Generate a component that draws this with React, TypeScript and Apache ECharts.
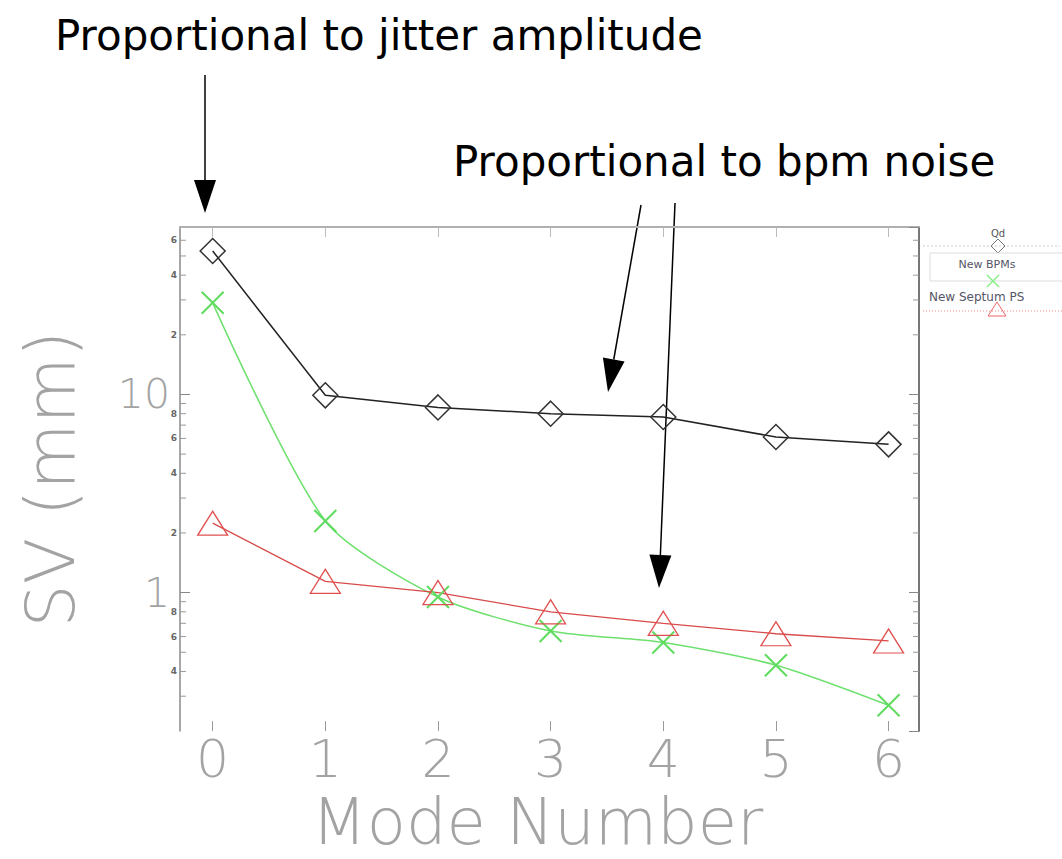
import React, { useEffect, useRef } from "react";
import * as echarts from "echarts";

const MODES = [0, 1, 2, 3, 4, 5, 6];
const QD = [53, 9.9, 8.6, 8.0, 7.7, 6.1, 5.6];
const NEW_BPMS = [29, 2.3, 0.95, 0.64, 0.56, 0.43, 0.27];
const NEW_SEPTUM = [2.24, 1.14, 1.0, 0.8, 0.7, 0.62, 0.57];

const X_TICKS = [0, 1, 2, 3, 4, 5, 6];
const Y_MAJOR_LABELS = [1, 10];
const Y_MINOR_TICKS = [0.3, 0.4, 0.5, 0.6, 0.7, 0.8, 0.9, 2, 3, 4, 5, 6, 7, 8, 9, 20, 30, 40, 50, 60];
const Y_MINOR_LABELS = [0.4, 0.6, 0.8, 2, 4, 6, 8, 20, 40, 60];

const X_MIN = -0.29;
const X_MAX = 6.27;
const Y_MIN = 0.2;
const Y_MAX = 70;

const AXIS_FONT = "'DejaVu Sans', sans-serif";
const AXIS_COLOR = "#a3a3a3";

function arrow(x1: number, y1: number, x2: number, y2: number) {
  const len = Math.hypot(x2 - x1, y2 - y1);
  const dx = (x2 - x1) / len;
  const dy = (y2 - y1) / len;
  const hl = 33;
  const hw = 11;
  const bx = x2 - dx * hl;
  const by = y2 - dy * hl;
  return [
    {
      type: "line",
      shape: { x1, y1, x2: bx, y2: by },
      style: { stroke: "#000", lineWidth: 1.5 },
    },
    {
      type: "polygon",
      shape: {
        points: [
          [x2, y2],
          [bx - dy * hw, by + dx * hw],
          [bx + dy * hw, by - dx * hw],
        ],
      },
      style: { fill: "#000" },
    },
  ];
}

const X_PATH = "path://M0 0L10 10M10 0L0 10";
const LEG_FONT = "'DejaVu Sans', sans-serif";

export default function App() {
  const ref = useRef<HTMLDivElement>(null);
  useEffect(() => {
    if (!ref.current) return;
    const chart = echarts.init(ref.current, null, { renderer: "svg" });
    const pts = (arr: number[]) => MODES.map((m, i) => [m, arr[i]]);
    const option: any = {
      animation: false,
      backgroundColor: "#fff",
      grid: { left: 180, top: 227, right: 143, bottom: 116, containLabel: false },
      xAxis: [
        {
          type: "value",
          min: X_MIN,
          max: X_MAX,
          position: "bottom",
          name: "Mode Number",
          nameLocation: "middle",
          nameGap: 54,
          nameTextStyle: {
            fontFamily: AXIS_FONT,
            fontWeight: 200,
            fontSize: 64,
            color: AXIS_COLOR,
            padding: [0, 24, 0, 0],
          },
          axisLine: { show: false, onZero: false },
          axisTick: { show: true, inside: true, length: 10, customValues: X_TICKS, lineStyle: { color: "#999" } },
          axisLabel: {
            customValues: X_TICKS,
            margin: 2,
            fontFamily: AXIS_FONT,
            fontWeight: 200,
            fontSize: 52,
            color: AXIS_COLOR,
          },
          splitLine: { show: false },
        },
        {
          type: "value",
          min: X_MIN,
          max: X_MAX,
          position: "top",
          axisLine: { show: true, onZero: false, lineStyle: { color: "#b0b0b0", width: 2 } },
          axisTick: { show: true, inside: true, length: 10, customValues: X_TICKS, lineStyle: { color: "#bbb" } },
          axisLabel: { show: false },
          splitLine: { show: false },
        },
      ],
      yAxis: [
        {
          type: "log",
          logBase: 10,
          min: Y_MIN,
          max: Y_MAX,
          position: "left",
          name: "SV (mm)",
          nameLocation: "middle",
          nameRotate: 90,
          nameGap: 96,
          nameTextStyle: { fontFamily: AXIS_FONT, fontWeight: 200, fontSize: 68, color: AXIS_COLOR },
          axisLine: { show: true, onZero: false, lineStyle: { color: "#8a8a8a", width: 1.5 } },
          axisTick: { show: true, inside: true, length: 10, lineStyle: { color: "#888" } },
          axisLabel: {
            margin: 10,
            fontFamily: AXIS_FONT,
            fontWeight: 200,
            fontSize: 41,
            color: AXIS_COLOR,
            showMinLabel: false,
            showMaxLabel: false,
            formatter: (v: number) => {
              const hit = Y_MAJOR_LABELS.find((m) => Math.abs(v - m) < 1e-6);
              return hit !== undefined ? String(hit) : "";
            },
          },
          splitLine: { show: false },
        },
        {
          type: "log",
          logBase: 10,
          min: Y_MIN,
          max: Y_MAX,
          position: "right",
          axisLine: { show: true, onZero: false, lineStyle: { color: "#777", width: 2 } },
          axisTick: { show: true, inside: true, length: 10, lineStyle: { color: "#888" } },
          axisLabel: { show: false },
          splitLine: { show: false },
        },
      ],
      series: [
        {
          type: "custom",
          silent: true,
          clip: false,
          xAxisIndex: 0,
          yAxisIndex: 0,
          data: Y_MINOR_TICKS.map((v) => [0, v]),
          renderItem: (params: any, api: any) => {
            const v = api.value(1);
            const l = api.coord([X_MIN, v]);
            const r = api.coord([X_MAX, v]);
            return {
              type: "group",
              children: [
                { type: "line", shape: { x1: l[0], y1: l[1], x2: l[0] + 6, y2: l[1] }, style: { stroke: "#999", lineWidth: 1 } },
                { type: "line", shape: { x1: r[0] - 6, y1: r[1], x2: r[0], y2: r[1] }, style: { stroke: "#999", lineWidth: 1 } },
              ],
            };
          },
          z: 1,
        },
        {
          type: "custom",
          silent: true,
          clip: false,
          xAxisIndex: 0,
          yAxisIndex: 0,
          data: Y_MINOR_LABELS.map((v) => [0, v]),
          renderItem: (params: any, api: any) => {
            const v = api.value(1);
            const l = api.coord([X_MIN, v]);
            const digit = String(Math.round(v / Math.pow(10, Math.floor(Math.log10(v) + 1e-9))));
            return {
              type: "text",
              x: l[0] - 3,
              y: l[1],
              style: {
                text: digit,
                fill: "#666",
                fontSize: 9,
                fontWeight: "bold",
                fontFamily: "'DejaVu Sans', sans-serif",
                align: "right",
                verticalAlign: "middle",
              },
            };
          },
          z: 1,
        },
        {
          name: "Qd",
          type: "line",
          data: pts(QD),
          symbol: "diamond",
          symbolSize: 25,
          lineStyle: { color: "#222", width: 1.5 },
          itemStyle: { color: "rgba(255,255,255,0)", borderColor: "#333", borderWidth: 1.5 },
          z: 3,
        },
        {
          name: "New BPMs",
          type: "line",
          smooth: 0.25,
          data: pts(NEW_BPMS),
          symbol: X_PATH,
          symbolSize: 22,
          lineStyle: { color: "#6ee06e", width: 1.5 },
          itemStyle: { color: "rgba(0,0,0,0)", borderColor: "#5fdc5f", borderWidth: 2 },
          z: 3,
        },
        {
          name: "New Septum PS",
          type: "line",
          data: pts(NEW_SEPTUM),
          symbol: "triangle",
          symbolSize: [30, 24],
          lineStyle: { color: "#d94a4a", width: 1.3 },
          itemStyle: { color: "rgba(255,255,255,0)", borderColor: "#e05050", borderWidth: 1.3 },
          z: 3,
        },
      ],
      graphic: [
        {
          type: "text",
          x: 55,
          y: 35,
          style: {
            text: "Proportional to jitter amplitude",
            fontFamily: "'DejaVu Sans', sans-serif",
            fontSize: 42,
            fill: "#000",
            align: "left",
            verticalAlign: "middle",
          },
        },
        {
          type: "text",
          x: 453,
          y: 161,
          style: {
            text: "Proportional to bpm noise",
            fontFamily: "'DejaVu Sans', sans-serif",
            fontSize: 42,
            fill: "#000",
            align: "left",
            verticalAlign: "middle",
          },
        },
        ...arrow(205, 75, 205, 213),
        ...arrow(641, 205, 608, 392),
        ...arrow(675, 203, 659, 588),
        // legend
        { type: "line", shape: { x1: 923, y1: 246, x2: 1060, y2: 246 }, style: { stroke: "#ccc", lineWidth: 1, lineDash: [2, 2] } },
        { type: "text", x: 998, y: 233, style: { text: "Qd", fontSize: 10, fontFamily: LEG_FONT, fill: "#555", align: "center", verticalAlign: "middle" } },
        { type: "polygon", shape: { points: [[998, 239], [1005, 246], [998, 253], [991, 246]] }, style: { fill: "none", stroke: "#777", lineWidth: 1 } },
        { type: "rect", shape: { x: 930, y: 253, width: 140, height: 28 }, style: { fill: "none", stroke: "#ddd", lineWidth: 1 } },
        { type: "text", x: 987, y: 264, style: { text: "New BPMs", fontSize: 11, fontFamily: LEG_FONT, fill: "#556", align: "center", verticalAlign: "middle" } },
        { type: "line", shape: { x1: 987, y1: 275, x2: 999, y2: 287 }, style: { stroke: "#8e8", lineWidth: 1.5 } },
        { type: "line", shape: { x1: 999, y1: 275, x2: 987, y2: 287 }, style: { stroke: "#8e8", lineWidth: 1.5 } },
        { type: "text", x: 929, y: 297, style: { text: "New Septum PS", fontSize: 12, fontFamily: LEG_FONT, fill: "#556", align: "left", verticalAlign: "middle" } },
        { type: "line", shape: { x1: 923, y1: 311, x2: 1062, y2: 311 }, style: { stroke: "#e88", lineWidth: 1, lineDash: [1, 2] } },
        { type: "polygon", shape: { points: [[997, 302], [1006, 316], [988, 316]] }, style: { fill: "none", stroke: "#e66", lineWidth: 1 } },
      ],
    };
    chart.setOption(option);
    return () => chart.dispose();
  }, []);
  return (
    <div
      ref={ref}
      style={{ position: "absolute", left: 0, top: 0, width: 1062, height: 859, background: "#fff" }}
    />
  );
}
